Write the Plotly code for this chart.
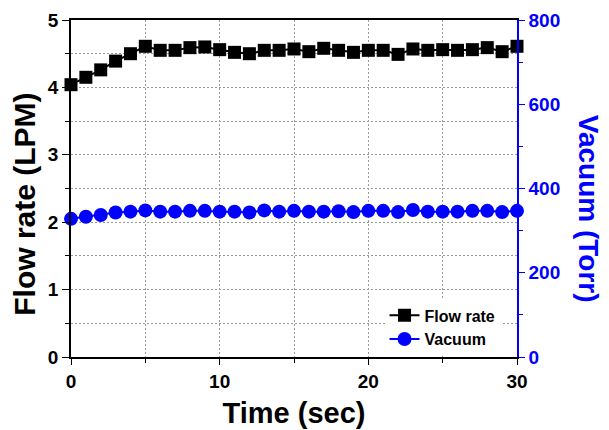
import plotly.graph_objects as go

time_sec = list(range(0, 31))
flow_rate = [4.04, 4.15, 4.26, 4.39, 4.50, 4.61, 4.55, 4.55, 4.59, 4.60,
             4.56, 4.52, 4.50, 4.55, 4.55, 4.57, 4.53, 4.58, 4.55, 4.52,
             4.55, 4.55, 4.49, 4.57, 4.55, 4.56, 4.55, 4.56, 4.59, 4.53, 4.61]
vacuum = [328, 333, 337, 343, 345, 348, 345, 345, 347, 347,
          345, 345, 343, 348, 345, 347, 345, 345, 346, 344,
          347, 347, 344, 349, 345, 345, 345, 347, 347, 344, 347]

FONT = "Arial, 'Liberation Sans', sans-serif"
BLUE = "#0000ff"

fig = go.Figure()
fig.add_trace(go.Scatter(x=time_sec, y=flow_rate, name="Flow rate", mode="lines+markers",
                         line=dict(color="black", width=2),
                         marker=dict(symbol="square", size=13, color="black"),
                         cliponaxis=False))
fig.add_trace(go.Scatter(x=time_sec, y=vacuum, name="Vacuum", mode="lines+markers",
                         yaxis="y2",
                         line=dict(color=BLUE, width=2),
                         marker=dict(symbol="circle", size=14, color=BLUE),
                         cliponaxis=False))

grid = dict(gridcolor="#9a9a9a", gridwidth=1, griddash="2px,2px")

fig.update_layout(
    width=601, height=422,
    margin=dict(l=63, r=92, t=12, b=73),
    paper_bgcolor="white", plot_bgcolor="white",
    font=dict(family=FONT, size=19, color="black"),
    showlegend=True,
    legend=dict(x=0.703, y=0.174, xanchor="left", yanchor="top",
                bgcolor="white", borderwidth=0,
                font=dict(family=FONT, size=16, color="black", weight="bold"),
                tracegroupgap=0),
    xaxis=dict(range=[0, 30], dtick=10, tick0=0, automargin=False,
               showline=True, linecolor="black", linewidth=1.5, mirror=True,
               ticks="outside", ticklen=6, tickcolor="black",
               tickfont=dict(size=19, weight="bold"),
               showgrid=True, **grid,
               minor=dict(dtick=5, ticks="outside", ticklen=4, tickcolor="black",
                          showgrid=True, **grid),
               zeroline=False,
               title=dict(text="Time (sec)", font=dict(size=29, weight="bold"), standoff=12)),
    yaxis=dict(range=[0, 5], dtick=1, tick0=0, automargin=False,
               showline=True, linecolor="black", linewidth=1.5,
               ticks="outside", ticklen=7, tickcolor="black",
               tickfont=dict(size=19, weight="bold"),
               showgrid=True, **grid,
               minor=dict(dtick=0.5, ticks="outside", ticklen=4, tickcolor="black",
                          showgrid=True, **grid),
               zeroline=False),
    yaxis2=dict(range=[0, 800], dtick=200, tick0=0, overlaying="y", side="right",
                automargin=False,
                showline=True, linecolor=BLUE, linewidth=1.5,
                ticks="outside", ticklen=6, tickcolor=BLUE,
                tickfont=dict(size=19, weight="bold", color=BLUE),
                showgrid=False, zeroline=False,
                minor=dict(dtick=100, ticks="outside", ticklen=4, tickcolor=BLUE)),
    annotations=[
        dict(text="Flow rate (LPM)", xref="paper", yref="paper", x=-0.106, y=0.454,
             xanchor="center", yanchor="middle", textangle=-90, showarrow=False,
             font=dict(family=FONT, size=30, weight="bold", color="black")),
        dict(text="Vacuum (Torr)", xref="paper", yref="paper", x=1.162, y=0.439,
             xanchor="center", yanchor="middle", textangle=90, showarrow=False,
             font=dict(family=FONT, size=28, weight="bold", color=BLUE)),
    ],
)

fig.write_html("out.html")
